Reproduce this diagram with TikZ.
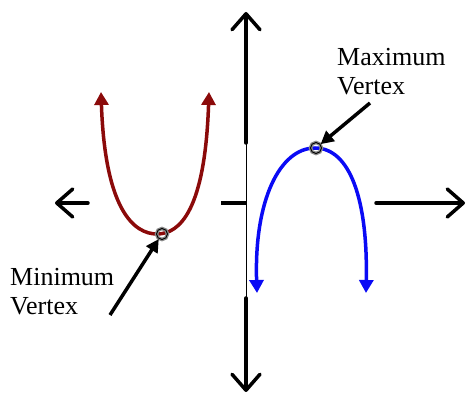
\documentclass[tikz,border=0pt]{standalone}
\usepackage{fontspec}
\setmainfont{Liberation Serif}
\usetikzlibrary{arrows.meta,positioning}
\definecolor{DarkRed}{HTML}{8B0A0A}
\definecolor{PureBlue}{HTML}{0A0AF5}
\definecolor{RingGray}{HTML}{8A8A8A}

\begin{document}
\begin{tikzpicture}[
  x=1pt,y=-1pt,
  axis/.style={line width=3.5pt,line cap=round,-{Straight Barb[length=16pt,width=28pt,round]}},
  seg/.style={line width=3.5pt},
  redcurve/.style={line width=3.5pt,draw=DarkRed,arrows={Triangle[length=13pt,width=14pt]-Triangle[length=13pt,width=14pt]}},
  bluecurve/.style={line width=3.5pt,draw=PureBlue,arrows={Triangle[length=13pt,width=14pt]-Triangle[length=13pt,width=14pt]}},
  callout/.style={line width=3.5pt,-{Triangle[length=13pt,width=13pt]}},
  ring/.style={circle,draw=black,line width=0.9pt,minimum size=11pt,inner sep=0pt,preaction={draw=RingGray,line width=3.5pt}},
  lbl/.style={font=\fontsize{26}{29}\selectfont,align=left,inner sep=0pt}
]
\useasboundingbox (0,0) rectangle (467,395);
\coordinate (ytop) at (246,12);
\coordinate (ycut1) at (246,143);
\coordinate (ycut2) at (246,298);
\coordinate (ybot) at (246,392);
\coordinate (xleft) at (55,203);
\coordinate (xcut1) at (88,203);
\coordinate (xcut2) at (221,203);
\coordinate (xcut3) at (376,203);
\coordinate (xright) at (465,203);
\draw[axis] (ycut1) -- (ytop);
\draw[axis] (ycut2) -- (ybot);
\draw[axis] (xcut1) -- (xleft);
\draw[axis] (xcut3) -- (xright);
\draw[seg] (xcut2) -- (xcut2 -| ytop);
\draw[line width=0.8pt] (ycut1) -- (ycut2);
\draw[redcurve] (101,92) .. controls (105,210) and (134,234) .. (157,234)
  .. controls (180,234) and (205,210) .. (209,92);
\draw[bluecurve] (257,293) .. controls (254,200) and (280,148) .. (315,148)
  .. controls (350,148) and (368,200) .. (366,293);
\node[ring] (minv) at (162,234) {};
\node[ring] (maxv) at (316,148) {};
\node[lbl,anchor=north west] (maxlbl) at (337,48) {Maximum\\Vertex};
\node[lbl,anchor=north west] (minlbl) at (10,268) {Minimum\\Vertex};
\coordinate (maxtail) at (370,103);
\coordinate (mintail) at (110,315);
\draw[callout] (maxtail) -- (maxv);
\draw[callout] (mintail) -- (minv);
\end{tikzpicture}
\end{document}
